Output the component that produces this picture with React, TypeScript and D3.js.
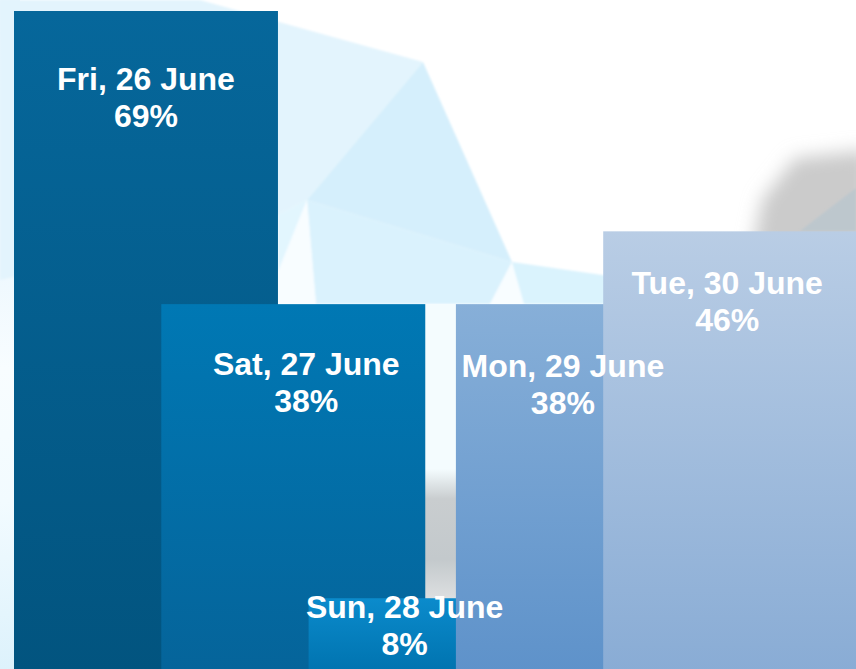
import React from "react";
import * as d3 from "d3";

// ---- data ----
const categories = ["Fri, 26 June", "Sat, 27 June", "Sun, 28 June", "Mon, 29 June", "Tue, 30 June"];
const values = [69.0, 38.4, 7.7, 38.4, 46.0];

// ---- styles ----
const topColors = ["#06679B", "#0078B4", "#0B8BCC", "#87AFD8", "#B9CDE5"];
const bottomColors = ["#02547F", "#05649A", "#0073AF", "#5E92CA", "#89ACD5"];
// label nudges relative to bar centre / bar top
const labelNudge: [number, number][] = [[0, 79], [13, 71], [-36, 20], [-25, 73], [-8, 63]];

const W = 856;
const H = 669;

export default function App() {
  const x = d3.scaleBand<string>().domain(categories).range([14, 14 + 5 * 147.3]).paddingInner(0).paddingOuter(0);
  const barW = x.bandwidth() * 1.792;
  const y = d3.scaleLinear().domain([0, 69]).range([672, 11]);

  const poly = (pts: [number, number][]) => d3.line()(pts.concat([pts[0]])) as string;

  return (
    <svg width={W} height={H} style={{ position: "absolute", left: 0, top: 0 }} fontFamily="'Liberation Sans', Arial, sans-serif">
      <defs>
        {categories.map((c, i) => (
          <linearGradient key={c} id={`g${i}`} x1="0" y1="0" x2="0" y2="1">
            <stop offset="0%" stopColor={topColors[i]} />
            <stop offset="100%" stopColor={bottomColors[i]} />
          </linearGradient>
        ))}
        <linearGradient id="leftStrip" x1="0" y1="0" x2="0" y2="1">
          <stop offset="0%" stopColor="#E6F5FD" />
          <stop offset="40%" stopColor="#EEF8FE" />
          <stop offset="55%" stopColor="#F8FDFF" />
          <stop offset="75%" stopColor="#F2FBFF" />
          <stop offset="100%" stopColor="#DDF2FC" />
        </linearGradient>
        <linearGradient id="grayV" x1="0" y1="0" x2="0" y2="1">
          <stop offset="0%" stopColor="#F4FCFE" />
          <stop offset="55%" stopColor="#F4FCFE" />
          <stop offset="65%" stopColor="#C9CDCF" />
          <stop offset="85%" stopColor="#C3C9CC" />
          <stop offset="100%" stopColor="#E0E2E3" />
        </linearGradient>
        <filter id="blur" x="-20%" y="-20%" width="140%" height="140%">
          <feGaussianBlur stdDeviation="9" />
        </filter>
        <filter id="blurS">
          <feGaussianBlur stdDeviation="1" />
        </filter>
      </defs>

      {/* background */}
      <rect x={0} y={0} width={W} height={H} fill="#FFFFFF" />
      <rect x={0} y={0} width={20} height={H} fill="url(#leftStrip)" />
      <g filter="url(#blurS)">
        <path d={poly([[0, 0], [200, 0], [423, 62], [307, 200], [278, 215], [0, 280]])} fill="#E3F4FD" />
        <path d={poly([[423, 62], [512, 262], [307, 200]])} fill="#D5EFFC" />
        <path d={poly([[307, 200], [512, 262], [490, 304], [316, 304]])} fill="#DAF2FD" />
        <path d={poly([[307, 200], [278, 215], [278, 272]])} fill="#E2F6FE" />
        <path d={poly([[307, 200], [316, 304], [278, 304], [278, 272]])} fill="#F8FDFF" />
        <path d={poly([[512, 262], [490, 304], [524, 304]])} fill="#F8FDFF" />
        <path d={poly([[512, 262], [720, 292], [720, 304], [524, 304]])} fill="#DAF3FD" />
      </g>
      <rect x={420} y={304} width={40} height={300} fill="url(#grayV)" />
      <path d={poly([[795, 158], [870, 150], [870, 250], [752, 250], [762, 200]])} fill="#CBCBCB" filter="url(#blur)" />
      <path d={poly([[800, 231], [856, 188], [856, 231]])} fill="#BDC7CD" filter="url(#blurS)" />

      {/* bars */}
      {categories.map((c, i) => (
        <rect key={c} x={x(c)!} y={y(values[i])} width={barW} height={y(0) - y(values[i])} fill={`url(#g${i})`} />
      ))}

      {/* labels */}
      {categories.map((c, i) => {
        const cx = x(c)! + barW / 2 + labelNudge[i][0];
        const by = y(values[i]) + labelNudge[i][1];
        return (
          <text key={c} x={cx} y={by} textAnchor="middle" fill="#FFFFFF" fontWeight="bold" fontSize={32}>
            <tspan x={cx} y={by}>{c}</tspan>
            <tspan x={cx} y={by + 37}>{`${Math.round(values[i])}%`}</tspan>
          </text>
        );
      })}
    </svg>
  );
}
